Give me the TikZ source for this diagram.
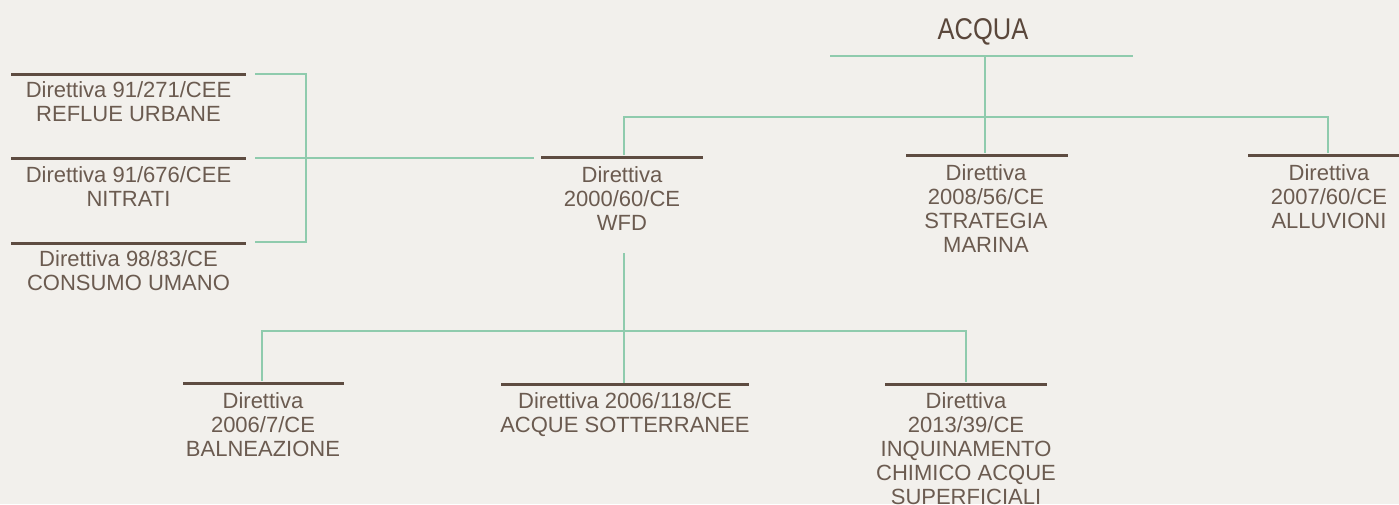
\documentclass[tikz,border=0pt]{standalone}
\usepackage{fontspec}
\setmainfont{Liberation Sans}
\usepackage{graphicx}
\definecolor{bg}{HTML}{F2F0EC}
\definecolor{conngreen}{HTML}{8FCBAD}
\definecolor{barbrown}{HTML}{5E4C41}
\definecolor{txt}{HTML}{6B5B50}
\definecolor{titletxt}{HTML}{5A473B}
\begin{document}
\begin{tikzpicture}[x=1pt,y=-1pt,
  conn/.style={draw=conngreen, line width=2.6pt},
  bar/.style={draw=barbrown, line width=3pt},
  lbl/.style={anchor=north, inner sep=0pt, align=center, text=txt,
    font=\fontsize{22}{24}\selectfont},
  ttl/.style={anchor=base, inner sep=0pt, text=titletxt,
    font=\fontsize{30}{32}\selectfont}]
\fill[bg] (0,0) rectangle (1399,504);
\useasboundingbox (0,0) rectangle (1399,504);

% title
\node[ttl] (acqua) at (983,39) {\scalebox{0.85}[1]{ACQUA}};

% coordinates
\coordinate (tL) at (830,56);
\coordinate (tR) at (1133,56);
\coordinate (tM) at (985,56);
\coordinate (bL) at (624,117);
\coordinate (bR) at (1328,117);
\coordinate (wfdTop) at (624,155);
\coordinate (strTop) at (985,153);
\coordinate (allTop) at (1328,153);
\coordinate (wfdJoin) at (534,158);
\coordinate (brA) at (255,74);
\coordinate (brAc) at (306,74);
\coordinate (brB) at (255,158);
\coordinate (brBc) at (306,158);
\coordinate (brC) at (255,242);
\coordinate (brCc) at (306,242);
\coordinate (wfdBot) at (624,253);
\coordinate (wfdBus) at (624,331);
\coordinate (bbL) at (262,331);
\coordinate (bbR) at (966,331);
\coordinate (balTop) at (262,381);
\coordinate (sotTop) at (624,383);
\coordinate (inqTop) at (966,382);

% brown bars
\draw[bar] (541,157) -- (703,157);
\draw[bar] (906,155) -- (1068,155);
\draw[bar] (1248,155) -- (1399,155);
\draw[bar] (11,74) -- (246,74);
\draw[bar] (11,158) -- (246,158);
\draw[bar] (11,243) -- (246,243);
\draw[bar] (183,383) -- (344,383);
\draw[bar] (501,384) -- (749,384);
\draw[bar] (885,384) -- (1047,384);

% green connectors
\draw[conn] (tL) -- (tR);
\draw[conn] (tM) -- (strTop);
\draw[conn] (wfdTop) -- (bL) -- (bR) -- (allTop);
\draw[conn] (brA) -- (brAc) -- (brCc) -- (brC);
\draw[conn] (brB) -- (wfdJoin);
\draw[conn] (wfdBot) -- (sotTop);
\draw[conn] (balTop) -- (bbL) -- (bbR) -- (inqTop);

% labels
\node[lbl] (reflue) at (128.5,80) {\rule{0pt}{17pt}Direttiva 91/271/CEE\\REFLUE URBANE};
\node[lbl] (nitrati) at (128.5,165) {\rule{0pt}{17pt}Direttiva 91/676/CEE\\NITRATI};
\node[lbl] (consumo) at (128.5,249) {\rule{0pt}{17pt}Direttiva 98/83/CE\\CONSUMO UMANO};
\node[lbl] (wfd) at (622,165) {\rule{0pt}{17pt}Direttiva\\2000/60/CE\\WFD};
\node[lbl] (strategia) at (986,163) {\rule{0pt}{17pt}Direttiva\\2008/56/CE\\STRATEGIA\\MARINA};
\node[lbl] (alluvioni) at (1329,163) {\rule{0pt}{17pt}Direttiva\\2007/60/CE\\ALLUVIONI};
\node[lbl] (balneazione) at (263,391) {\rule{0pt}{17pt}Direttiva\\2006/7/CE\\BALNEAZIONE};
\node[lbl] (sotterranee) at (625,391) {\rule{0pt}{17pt}Direttiva 2006/118/CE\\ACQUE SOTTERRANEE};
\node[lbl] (inquinamento) at (966,391) {\rule{0pt}{17pt}Direttiva\\2013/39/CE\\INQUINAMENTO\\CHIMICO ACQUE\\SUPERFICIALI};
\end{tikzpicture}
\end{document}
